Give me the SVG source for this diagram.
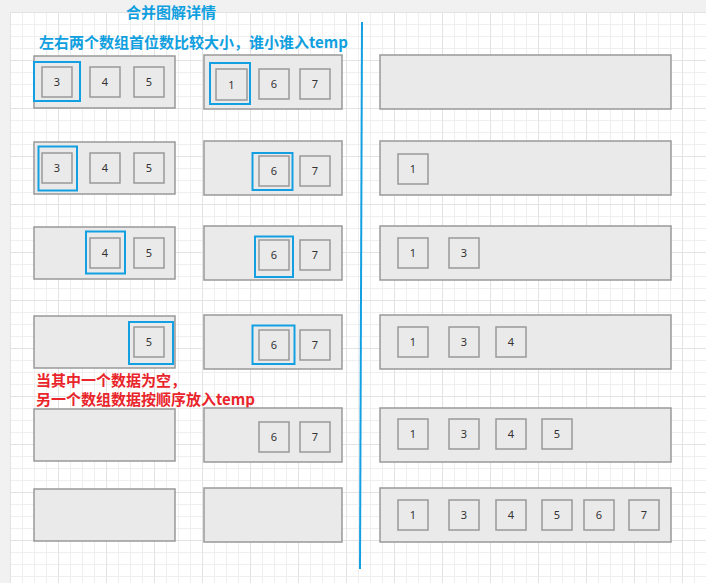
<svg xmlns="http://www.w3.org/2000/svg" width="706" height="583" viewBox="0 0 706 583">
<style>
.c{fill:#eaeaea;stroke:#999;stroke-width:1.5}
.b{fill:#eaeaea;stroke:#999;stroke-width:1.5}
.h{fill:none;stroke:#12a0e2;stroke-width:2}
.n{font-family:"Noto Sans","Liberation Sans",sans-serif;font-size:11px;fill:#333;text-anchor:middle}
.t{font-family:"Noto Sans CJK SC",sans-serif;font-size:15px;font-weight:bold}
</style>
<defs>
<pattern id="grid" patternUnits="userSpaceOnUse" x="10" y="12" width="48" height="48">
<rect width="48" height="48" fill="#fff"/>
<path d="M12.5 0V48M24.5 0V48M36.5 0V48M0 12.5H48M0 24.5H48M0 36.5H48" stroke="#efefef" stroke-width="1"/>
<path d="M0.5 0V48M0 0.5H48" stroke="#e3e3e3" stroke-width="1"/>
</pattern>
</defs>
<rect width="706" height="583" fill="#f1f1f1"/>
<rect x="10" y="12" width="696" height="571" fill="url(#grid)"/>

<text class="t" x="171" y="18" fill="#10a0e0" text-anchor="middle">合并图解详情</text>
<text class="t" x="39" y="48" fill="#10a0e0">左右两个数组首位数比较大小，谁小谁入temp</text>
<text class="t" x="36" y="386" fill="#e9242a">当其中一个数据为空，</text>
<text class="t" x="36" y="405" fill="#e9242a">另一个数组数据按顺序放入temp</text>

<g id="connectors">
<line x1="362" y1="22" x2="360" y2="569" stroke="#12a0e2" stroke-width="2"/>
</g>

<!-- Row 1 -->
<g id="left1">
<rect class="c" x="34" y="56" width="141" height="52"/>
<rect class="b" x="42" y="67" width="30" height="30"/><text class="n" x="57" y="86">3</text>
<rect class="b" x="90" y="67" width="30" height="30"/><text class="n" x="105" y="86">4</text>
<rect class="b" x="134" y="67" width="30" height="30"/><text class="n" x="149" y="86">5</text>
<rect class="h" x="34" y="62" width="46" height="39"/>
</g>
<g id="mid1">
<rect class="c" x="204" y="55" width="138" height="54"/>
<rect class="b" x="216" y="69" width="31" height="31"/><text class="n" x="231.5" y="88.5">1</text>
<rect class="b" x="259" y="69" width="30" height="30"/><text class="n" x="274" y="88">6</text>
<rect class="b" x="300" y="69" width="30" height="30"/><text class="n" x="315" y="88">7</text>
<rect class="h" x="210" y="63" width="40" height="41"/>
</g>
<g id="right1">
<rect class="c" x="380" y="55" width="291" height="54"/>
</g>

<!-- Row 2 -->
<g id="left2">
<rect class="c" x="34" y="142" width="141" height="52"/>
<rect class="b" x="42" y="153" width="30" height="30"/><text class="n" x="57" y="172">3</text>
<rect class="b" x="90" y="153" width="30" height="30"/><text class="n" x="105" y="172">4</text>
<rect class="b" x="134" y="153" width="30" height="30"/><text class="n" x="149" y="172">5</text>
<rect class="h" x="38.5" y="146.5" width="38.5" height="44"/>
</g>
<g id="mid2">
<rect class="c" x="204" y="141" width="138" height="54"/>
<rect class="b" x="259" y="156" width="30" height="30"/><text class="n" x="274" y="175">6</text>
<rect class="b" x="300" y="156" width="30" height="30"/><text class="n" x="315" y="175">7</text>
<rect class="h" x="252.5" y="153" width="40" height="37"/>
</g>
<g id="right2">
<rect class="c" x="380" y="141" width="291" height="54"/>
<rect class="b" x="398" y="154" width="30" height="30"/><text class="n" x="413" y="173">1</text>
</g>

<!-- Row 3 -->
<g id="left3">
<rect class="c" x="34" y="227" width="141" height="52"/>
<rect class="b" x="90" y="238" width="30" height="30"/><text class="n" x="105" y="257">4</text>
<rect class="b" x="134" y="238" width="30" height="30"/><text class="n" x="149" y="257">5</text>
<rect class="h" x="86" y="231.5" width="39" height="42"/>
</g>
<g id="mid3">
<rect class="c" x="204" y="226" width="138" height="54"/>
<rect class="b" x="259" y="240" width="30" height="30"/><text class="n" x="274" y="259">6</text>
<rect class="b" x="300" y="240" width="30" height="30"/><text class="n" x="315" y="259">7</text>
<rect class="h" x="255" y="236.5" width="38" height="40.5"/>
</g>
<g id="right3">
<rect class="c" x="380" y="226" width="291" height="54"/>
<rect class="b" x="398" y="238" width="30" height="30"/><text class="n" x="413" y="257">1</text>
<rect class="b" x="449" y="238" width="30" height="30"/><text class="n" x="464" y="257">3</text>
</g>

<!-- Row 4 -->
<g id="left4">
<rect class="c" x="34" y="316" width="141" height="52"/>
<rect class="b" x="134" y="327" width="30" height="30"/><text class="n" x="149" y="346">5</text>
<rect class="h" x="129" y="322" width="44" height="42"/>
</g>
<g id="mid4">
<rect class="c" x="204" y="315" width="138" height="54"/>
<rect class="b" x="259" y="330" width="30" height="30"/><text class="n" x="274" y="349">6</text>
<rect class="b" x="300" y="330" width="30" height="30"/><text class="n" x="315" y="349">7</text>
<rect class="h" x="252.5" y="325.5" width="42" height="38.5"/>
</g>
<g id="right4">
<rect class="c" x="380" y="315" width="291" height="54"/>
<rect class="b" x="398" y="327" width="30" height="30"/><text class="n" x="413" y="346">1</text>
<rect class="b" x="449" y="327" width="30" height="30"/><text class="n" x="464" y="346">3</text>
<rect class="b" x="496" y="327" width="30" height="30"/><text class="n" x="511" y="346">4</text>
</g>

<!-- Row 5 -->
<g id="left5">
<rect class="c" x="34" y="409" width="141" height="52"/>
</g>
<g id="mid5">
<rect class="c" x="204" y="408" width="138" height="54"/>
<rect class="b" x="259" y="422" width="30" height="30"/><text class="n" x="274" y="441">6</text>
<rect class="b" x="300" y="422" width="30" height="30"/><text class="n" x="315" y="441">7</text>
</g>
<g id="right5">
<rect class="c" x="380" y="408" width="291" height="54"/>
<rect class="b" x="398" y="419" width="30" height="30"/><text class="n" x="413" y="438">1</text>
<rect class="b" x="449" y="419" width="30" height="30"/><text class="n" x="464" y="438">3</text>
<rect class="b" x="496" y="419" width="30" height="30"/><text class="n" x="511" y="438">4</text>
<rect class="b" x="542" y="419" width="30" height="30"/><text class="n" x="557" y="438">5</text>
</g>

<!-- Row 6 -->
<g id="left6">
<rect class="c" x="34" y="489" width="141" height="52"/>
</g>
<g id="mid6">
<rect class="c" x="204" y="488" width="138" height="54"/>
</g>
<g id="right6">
<rect class="c" x="380" y="488" width="291" height="54"/>
<rect class="b" x="398" y="500" width="30" height="30"/><text class="n" x="413" y="519">1</text>
<rect class="b" x="449" y="500" width="30" height="30"/><text class="n" x="464" y="519">3</text>
<rect class="b" x="496" y="500" width="30" height="30"/><text class="n" x="511" y="519">4</text>
<rect class="b" x="542" y="500" width="30" height="30"/><text class="n" x="557" y="519">5</text>
<rect class="b" x="584" y="500" width="30" height="30"/><text class="n" x="599" y="519">6</text>
<rect class="b" x="629" y="500" width="30" height="30"/><text class="n" x="644" y="519">7</text>
</g>
</svg>
